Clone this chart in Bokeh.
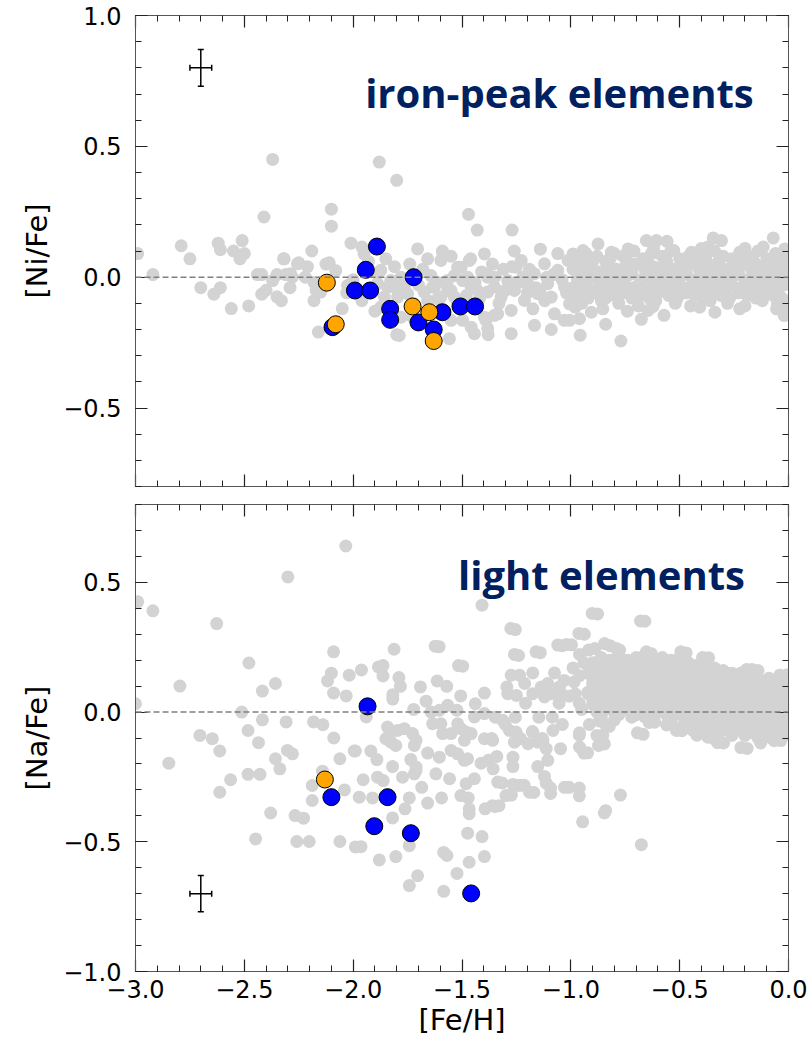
import numpy as np
from bokeh.plotting import figure
from bokeh.layouts import column
from bokeh.models import (ColumnDataSource, FixedTicker, LinearAxis, Span, Label,
                          Whisker, TeeHead, CustomJSTickFormatter, CustomLabelingPolicy)
from bokeh.embed import file_html
from bokeh.resources import INLINE

# ---------------------------------------------------------------------------
# Field stars, [Ni/Fe] vs [Fe/H]  (metal-poor halo part)
NI_FIELD_HALO = [
    (-2.99, 0.09), (-2.92, 0.01), (-2.79, 0.12), (-2.75, 0.07), (-2.70, -0.04),
    (-2.64, -0.065), (-2.62, 0.13), (-2.61, 0.105), (-2.61, -0.04), (-2.56, -0.12),
    (-2.55, 0.10), (-2.52, 0.07), (-2.51, 0.14), (-2.50, 0.09), (-2.48, -0.11),
    (-2.44, 0.01), (-2.42, 0.01), (-2.42, -0.065), (-2.41, 0.23), (-2.40, -0.05),
    (-2.37, 0.45), (-2.37, -0.013), (-2.35, 0.01), (-2.35, -0.075), (-2.33, -0.09),
    (-2.32, 0.07), (-2.31, 0.01), (-2.29, -0.04), (-2.28, 0.0), (-2.25, 0.055),
    (-2.22, 0.0), (-2.21, 0.04), (-2.19, 0.10), (-2.18, -0.02), (-2.18, -0.09),
    (-2.17, -0.05), (-2.16, -0.21), (-2.125, 0.05), (-2.11, 0.055), (-2.10, 0.26),
    (-2.10, 0.195), (-2.08, 0.025), (-2.05, -0.12), (-2.03, -0.06), (-2.01, 0.13),
    (-2.317, 0.07), (-2.256, 0.051), (-2.287, 0.013), (-2.149, -0.057), (-2.026, -0.032),
    (-1.96, 0.115), (-1.95, 0.089), (-1.88, 0.44), (-1.80, 0.37), (-1.85, 0.07),
    (-1.81, 0.04), (-1.80, -0.22), (-1.90, -0.13), (-1.873, 0.026), (-1.888, -0.025),
    (-1.857, -0.076), (-1.873, -0.114), (-1.811, -0.038), (-1.796, -0.076), (-1.78, -0.153),
    (-1.788, -0.223), (-1.75, -0.063), (-1.704, 0.108), (-1.674, -0.057), (-1.658, 0.07),
    (-1.635, -0.038), (-1.612, -0.083), (-1.589, 0.095), (-1.566, -0.051), (-1.55, -0.165),
    (-1.558, -0.235), (-1.497, -0.165), (-1.466, 0.064), (-1.458, -0.038), (-1.42, -0.083),
    (-1.397, 0.089), (-1.382, -0.057), (-1.39, -0.165), (-1.351, -0.146), (-1.458, -0.191),
    (-1.443, -0.216), (-1.535, -0.076), (-1.658, -0.089), (-1.719, -0.102), (-1.827, -0.013),
    (-1.78, 0.0), (-1.643, 0.006), (-1.535, 0.006), (-1.474, 0.0), (-1.382, 0.013),
    (-1.597, 0.064), (-1.504, 0.038), (-1.55, 0.08), (-1.59, 0.10), (-1.47, 0.24),
    (-1.43, 0.18), (-1.27, 0.18), (-1.46, 0.07), (-1.26, 0.10), (-1.14, 0.107),
    (-1.06, 0.09), (-1.38, -0.22), (-1.09, -0.20), (-1.03, -0.165), (-1.842, -0.038),
    (-1.765, -0.038), (-1.888, 0.013), (-1.627, -0.038), (-1.597, -0.076), (-1.52, 0.038),
    (-1.566, -0.013), (-1.497, -0.013), (-1.55, -0.051), (-1.428, -0.051), (-1.458, -0.114),
    (-1.397, -0.153), (-1.336, -0.14), (-1.274, -0.127), (-1.274, -0.216), (-1.382, -0.197),
    (-1.167, -0.184), (-1.382, 0.0), (-1.351, -0.038), (-1.32, -0.076), (-1.29, -0.013),
    (-1.259, -0.051), (-1.251, 0.038), (-1.228, 0.064), (-1.213, -0.089), (-1.198, -0.025),
    (-1.167, 0.013), (-1.152, -0.063), (-1.174, -0.121), (-1.121, 0.051), (-1.106, -0.025),
    (-1.09, -0.076), (-1.075, -0.14), (-1.06, 0.026), (-1.029, -0.038), (-1.013, 0.064),
    (-1.006, -0.102), (-1.31, 0.03), (-1.33, -0.10), (-1.24, -0.02), (-1.19, 0.03),
    (-1.12, -0.09), (-1.04, -0.01), (-1.36, 0.05), (-1.41, 0.02), (-1.16, -0.04),
    (-1.70, -0.03), (-1.68, 0.03), (-1.61, -0.02), (-1.52, -0.10), (-1.48, -0.07),
    (-1.73, -0.15), (-1.96, -0.09), (-2.00, -0.01), (-1.93, 0.06), (-1.74, 0.05),
    (-1.30, -0.05), (-1.22, 0.00), (-1.14, -0.06), (-1.08, 0.01), (-1.02, -0.06),
    (-1.44, -0.02), (-1.35, 0.00), (-1.27, 0.04), (-1.20, -0.06), (-1.11, 0.00),
]

# Field stars, [Ni/Fe] vs [Fe/H]  (thick/thin disc part)
NI_FIELD_DISC = [
    (-0.98, 0.07), (-0.93, 0.09), (-0.88, 0.08), (-0.84, 0.06), (-0.80, 0.09),
    (-0.76, 0.08), (-0.71, 0.10), (-0.67, 0.07), (-0.63, 0.09), (-0.58, 0.08),
    (-0.54, 0.10), (-0.50, 0.07), (-0.46, 0.08), (-0.42, 0.09), (-0.38, 0.07),
    (-0.34, 0.10), (-0.30, 0.08), (-0.26, 0.07), (-0.22, 0.09), (-0.18, 0.08),
    (-0.14, 0.10), (-0.10, 0.07), (-0.06, 0.09), (-0.02, 0.08),
    (-0.96, 0.06), (-0.90, 0.06), (-0.82, 0.07), (-0.74, 0.06), (-0.65, 0.06),
    (-0.56, 0.06), (-0.48, 0.06), (-0.40, 0.06), (-0.32, 0.06), (-0.24, 0.06),
    (-0.16, 0.06), (-0.08, 0.06), (-0.04, 0.06),
    (-0.99, 0.03), (-0.95, 0.05), (-0.91, 0.04), (-0.87, 0.02), (-0.83, 0.05),
    (-0.79, 0.03), (-0.75, 0.04), (-0.70, 0.05), (-0.66, 0.03), (-0.62, 0.04),
    (-0.57, 0.05), (-0.53, 0.03), (-0.49, 0.04), (-0.45, 0.05), (-0.41, 0.03),
    (-0.37, 0.04), (-0.33, 0.05), (-0.29, 0.03), (-0.25, 0.04), (-0.21, 0.05),
    (-0.17, 0.03), (-0.13, 0.04), (-0.09, 0.05), (-0.05, 0.03), (-0.01, 0.04),
    (-0.97, 0.02), (-0.89, 0.02), (-0.81, 0.02), (-0.72, 0.02), (-0.64, 0.02),
    (-0.55, 0.02), (-0.47, 0.02), (-0.39, 0.02), (-0.31, 0.02), (-0.23, 0.02),
    (-0.15, 0.02), (-0.07, 0.02), (-0.03, 0.02),
    (-0.97, -0.01), (-0.93, 0.01), (-0.89, 0.00), (-0.85, 0.01), (-0.81, -0.01),
    (-0.77, 0.00), (-0.73, 0.01), (-0.68, -0.01), (-0.64, 0.00), (-0.60, 0.01),
    (-0.56, -0.01), (-0.52, 0.00), (-0.48, 0.01), (-0.44, -0.01), (-0.40, 0.00),
    (-0.36, 0.01), (-0.32, -0.01), (-0.28, 0.00), (-0.24, 0.01), (-0.20, -0.01),
    (-0.16, 0.00), (-0.12, 0.01), (-0.08, -0.01), (-0.04, 0.00), (-0.01, 0.01),
    (-0.93, -0.02), (-0.85, -0.02), (-0.76, -0.02), (-0.68, -0.02), (-0.59, -0.02),
    (-0.51, -0.02), (-0.43, -0.02), (-0.35, -0.02), (-0.27, -0.02), (-0.19, -0.02),
    (-0.11, -0.02), (-0.03, -0.02),
    (-0.99, -0.04), (-0.95, -0.03), (-0.91, -0.05), (-0.87, -0.03), (-0.83, -0.04),
    (-0.79, -0.05), (-0.75, -0.03), (-0.71, -0.04), (-0.66, -0.05), (-0.62, -0.03),
    (-0.58, -0.04), (-0.54, -0.05), (-0.50, -0.03), (-0.46, -0.04), (-0.42, -0.05),
    (-0.38, -0.03), (-0.34, -0.04), (-0.30, -0.05), (-0.26, -0.03), (-0.22, -0.04),
    (-0.18, -0.05), (-0.14, -0.03), (-0.10, -0.04), (-0.06, -0.05), (-0.02, -0.03),
    (-0.94, -0.055), (-0.86, -0.055), (-0.77, -0.05), (-0.69, -0.055), (-0.61, -0.05),
    (-0.53, -0.055), (-0.45, -0.05), (-0.37, -0.055), (-0.29, -0.05), (-0.21, -0.055),
    (-0.13, -0.05), (-0.05, -0.055),
    (-0.97, -0.07), (-0.92, -0.08), (-0.88, -0.06), (-0.84, -0.08), (-0.80, -0.07),
    (-0.76, -0.06), (-0.72, -0.08), (-0.68, -0.07), (-0.64, -0.08), (-0.60, -0.06),
    (-0.55, -0.07), (-0.51, -0.08), (-0.47, -0.06), (-0.43, -0.07), (-0.39, -0.08),
    (-0.35, -0.06), (-0.31, -0.07), (-0.27, -0.08), (-0.23, -0.06), (-0.19, -0.07),
    (-0.15, -0.08), (-0.11, -0.06), (-0.07, -0.07), (-0.03, -0.08),
    (-0.95, -0.10), (-0.86, -0.09), (-0.78, -0.10), (-0.69, -0.11), (-0.61, -0.09),
    (-0.52, -0.10), (-0.45, -0.11), (-0.36, -0.09), (-0.28, -0.10), (-0.20, -0.11),
    (-0.12, -0.09), (-0.05, -0.10), (-0.01, -0.11),
    (-0.875, 0.127), (-0.653, 0.14), (-0.607, 0.14), (-0.558, 0.137), (-0.346, 0.15),
    (-0.308, 0.14), (-0.07, 0.15), (-0.737, 0.108), (-0.37, 0.115), (-0.116, 0.115),
    (-0.017, 0.108), (-0.446, 0.095), (-0.224, 0.095), (-0.99, 0.089), (-0.944, 0.102),
    (-0.814, 0.095), (-0.527, 0.102), (-0.20, 0.11), (-0.62, 0.11), (-0.40, 0.11),
    (-1.006, -0.165), (-0.96, -0.159), (-0.84, -0.18), (-0.957, -0.222), (-0.676, -0.161),
    (-0.572, -0.146), (-0.77, -0.244), (-0.338, -0.134), (-0.224, -0.121), (-0.055, -0.121),
    (-0.017, -0.146), (-0.645, -0.127), (-0.622, -0.112), (-0.408, -0.115), (-0.906, -0.134),
    (-0.853, -0.121), (-0.98, -0.115), (-0.04, -0.12), (-0.02, -0.146), (-0.74, -0.13),
]

# Sample stars, [Ni/Fe]
NI_BLUE_FEH = [-1.891, -1.942, -1.992, -1.922, -1.722, -1.830, -1.830, -1.70, -1.59, -1.507, -1.44, -1.63, -2.095]
NI_BLUE_NIFE = [0.117, 0.028, -0.051, -0.051, 0.0, -0.121, -0.163, -0.173, -0.134, -0.112, -0.112, -0.20, -0.191]
NI_ORANGE_FEH = [-2.121, -2.08, -1.727, -1.65, -1.63]
NI_ORANGE_NIFE = [-0.021, -0.18, -0.112, -0.134, -0.244]

# ---------------------------------------------------------------------------
# Field stars, [Na/Fe] vs [Fe/H]  (metal-poor halo part)
NA_FIELD_HALO = [
    (-2.034, 0.64), (-2.30, 0.521), (-2.99, 0.425), (-2.92, 0.39), (-2.627, 0.341),
    (-2.479, 0.189), (-2.09, 0.232), (-2.796, 0.10), (-2.417, 0.081), (-2.357, 0.11),
    (-2.10, 0.15), (-2.118, 0.12), (-2.018, 0.142), (-2.09, 0.073), (-2.032, 0.062),
    (-3.0, 0.032), (-2.512, 0.0), (-2.417, -0.03), (-2.483, -0.071), (-2.308, -0.038),
    (-2.182, -0.038), (-2.139, -0.049), (-2.089, -0.10), (-2.704, -0.09), (-2.647, -0.103),
    (-2.613, -0.15), (-2.435, -0.118), (-2.302, -0.148), (-2.279, -0.161), (-1.995, -0.15),
    (-2.847, -0.197), (-2.357, -0.18), (-2.337, -0.219), (-2.061, -0.18), (-2.563, -0.261),
    (-2.483, -0.24), (-2.428, -0.24), (-2.141, -0.228), (-2.613, -0.309), (-2.188, -0.283),
    (-2.188, -0.341), (-2.04, -0.30), (-2.379, -0.389), (-2.267, -0.399), (-2.228, -0.409),
    (-2.448, -0.489), (-2.259, -0.499), (-2.202, -0.499), (-2.061, -0.499), (-1.99, -0.52),
    (-1.408, 0.412), (-1.276, 0.322), (-1.623, 0.254), (-1.812, 0.242), (-1.259, 0.222),
    (-1.16, 0.232), (-1.06, 0.258), (-1.02, 0.26), (-1.516, 0.179), (-1.962, 0.162),
    (-1.884, 0.174), (-1.863, 0.179), (-1.863, 0.139), (-1.79, 0.133), (-1.783, 0.099),
    (-1.818, 0.067), (-1.818, 0.05), (-1.691, 0.097), (-1.614, 0.12), (-1.57, 0.099),
    (-1.665, 0.042), (-1.506, 0.062), (-1.397, 0.073), (-1.274, 0.142), (-1.236, 0.142),
    (-1.294, 0.097), (-1.29, 0.071), (-1.25, 0.064), (-1.212, 0.11), (-1.175, 0.151),
    (-1.136, 0.097), (-1.106, 0.11), (-1.075, 0.151), (-1.052, 0.097), (-1.03, 0.122),
    (-1.175, 0.071), (-1.121, 0.058), (-1.09, 0.071), (-1.044, 0.071), (-1.722, 0.01),
    (-1.642, 0.0), (-1.604, 0.007), (-1.566, 0.026), (-1.523, 0.007), (-1.439, 0.032),
    (-1.443, -0.019), (-1.397, -0.006), (-1.94, -0.019), (-1.842, -0.058), (-1.834, -0.09),
    (-1.796, -0.071), (-1.765, -0.064), (-1.727, -0.083), (-1.711, -0.109), (-1.826, -0.116),
    (-1.85, -0.103), (-1.804, -0.129), (-1.719, -0.129), (-1.635, -0.045), (-1.597, -0.045),
    (-1.589, -0.083), (-1.55, -0.083), (-1.52, -0.045), (-1.505, -0.064), (-1.481, -0.077),
    (-1.489, -0.109), (-1.458, -0.083), (-1.397, -0.103), (-1.359, -0.109), (-1.313, -0.032),
    (-1.282, -0.071), (-1.252, -0.077), (-1.259, -0.116), (-1.197, -0.122), (-1.175, -0.077),
    (-1.152, -0.116), (-1.128, -0.109), (-1.113, -0.141), (-1.082, -0.071), (-1.047, -0.141),
    (-1.99, -0.15), (-1.919, -0.15), (-1.891, -0.183), (-1.819, -0.21), (-1.735, -0.183),
    (-1.711, -0.212), (-1.658, -0.158), (-1.604, -0.174), (-1.55, -0.148), (-1.52, -0.161),
    (-1.489, -0.186), (-1.474, -0.18), (-1.412, -0.197), (-1.379, -0.186), (-1.34, -0.171),
    (-1.357, -0.219), (-1.266, -0.174), (-1.266, -0.21), (-1.152, -0.21), (-1.106, -0.186),
    (-1.121, -0.248), (-1.113, -0.274), (-1.954, -0.261), (-1.888, -0.251), (-1.862, -0.264),
    (-1.773, -0.251), (-1.719, -0.238), (-1.711, -0.225), (-1.62, -0.238), (-1.557, -0.257),
    (-1.481, -0.276), (-1.443, -0.257), (-1.336, -0.27), (-1.266, -0.279), (-1.244, -0.283),
    (-1.19, -0.309), (-1.029, -0.29), (-1.972, -0.328), (-1.911, -0.331), (-1.742, -0.331),
    (-1.685, -0.29), (-1.658, -0.351), (-1.594, -0.331), (-1.505, -0.322), (-1.471, -0.331),
    (-1.467, -0.373), (-1.467, -0.392), (-1.394, -0.373), (-1.348, -0.364), (-1.298, -0.322),
    (-1.762, -0.373), (-1.819, -0.408), (-1.742, -0.515), (-1.964, -0.519), (-1.88, -0.57),
    (-1.804, -0.557), (-1.474, -0.467), (-1.408, -0.48), (-1.584, -0.541), (-1.569, -0.553),
    (-1.467, -0.579), (-1.397, -0.557), (-1.523, -0.622), (-1.704, -0.631), (-1.742, -0.669),
    (-1.584, -0.691), (-0.877, 0.378), (-0.66, 0.35), (-1.255, 0.318), (-0.938, 0.30),
    (-1.605, 0.252), (-1.497, 0.177), (-1.24, 0.218), (-1.14, 0.229), (-1.039, 0.256),
    (-0.997, 0.259), (-0.96, 0.222), (-0.918, 0.239), (-0.89, 0.245), (-0.82, 0.256),
    (-0.776, 0.239), (-0.668, -0.086), (-0.923, -0.157), (-0.772, -0.32), (-0.846, -0.389),
    (-0.84, -0.38), (-0.946, -0.423), (-0.676, -0.511), (-0.961, -0.293), (-0.961, -0.323),
    (-1.008, -0.29), (-1.093, -0.293), (-1.093, -0.314), (-1.17, -0.31), (-1.23, -0.282),
    (-1.215, -0.282), (-1.273, -0.32), (-1.316, -0.273), (-1.33, -0.361), (-1.36, -0.361),
    (-0.961, -0.089), (-0.853, -0.089), (-0.846, -0.123), (-0.823, -0.055), (-0.869, -0.034),
    (-0.915, -0.048), (-0.961, 0.034), (-0.923, 0.075), (-0.877, 0.089), (-0.985, 0.116),
    (-1.008, 0.061), (-1.054, 0.034), (-1.085, -0.02), (-1.039, -0.048), (-1.147, -0.02),
    (-1.131, -0.102), (-1.177, -0.075), (-1.208, 0.034), (-1.255, -0.02), (-1.301, -0.048),
    (-1.231, -0.102), (-1.363, -0.102), (-1.347, -0.02),
    (-0.99, 0.17), (-0.96, 0.14), (-0.94, 0.19), (-0.98, 0.07), (-0.95, 0.01),
]

# Field stars, [Na/Fe] vs [Fe/H]  (thick/thin disc part)
NA_FIELD_DISC = [
    (-0.90, 0.19), (-0.86, 0.21), (-0.82, 0.20), (-0.78, 0.22), (-0.74, 0.20),
    (-0.70, 0.21), (-0.66, 0.22), (-0.62, 0.20), (-0.58, 0.21), (-0.54, 0.20),
    (-0.50, 0.21), (-0.46, 0.19), (-0.42, 0.18), (-0.38, 0.19), (-0.34, 0.17),
    (-0.30, 0.16), (-0.26, 0.15), (-0.22, 0.15), (-0.18, 0.14), (-0.14, 0.13),
    (-0.10, 0.12), (-0.06, 0.12), (-0.02, 0.11),
    (-0.88, 0.19), (-0.84, 0.19), (-0.80, 0.19), (-0.76, 0.20), (-0.72, 0.19),
    (-0.68, 0.19), (-0.64, 0.20), (-0.60, 0.19), (-0.56, 0.18), (-0.52, 0.19),
    (-0.48, 0.18), (-0.44, 0.17), (-0.40, 0.16), (-0.36, 0.16), (-0.32, 0.15),
    (-0.28, 0.14), (-0.24, 0.13), (-0.20, 0.13), (-0.16, 0.12), (-0.12, 0.11),
    (-0.08, 0.10), (-0.04, 0.10),
    (-0.92, 0.15), (-0.88, 0.16), (-0.84, 0.17), (-0.80, 0.16), (-0.76, 0.18),
    (-0.72, 0.17), (-0.68, 0.16), (-0.64, 0.18), (-0.60, 0.17), (-0.56, 0.16),
    (-0.52, 0.17), (-0.48, 0.16), (-0.44, 0.15), (-0.40, 0.14), (-0.36, 0.14),
    (-0.32, 0.13), (-0.28, 0.12), (-0.24, 0.11), (-0.20, 0.11), (-0.16, 0.10),
    (-0.12, 0.09), (-0.08, 0.08), (-0.04, 0.08), (-0.01, 0.07),
    (-0.90, 0.13), (-0.86, 0.14), (-0.82, 0.15), (-0.78, 0.14), (-0.74, 0.16),
    (-0.70, 0.15), (-0.66, 0.14), (-0.62, 0.15), (-0.58, 0.14), (-0.54, 0.15),
    (-0.50, 0.14), (-0.46, 0.13), (-0.42, 0.12), (-0.38, 0.12), (-0.34, 0.11),
    (-0.30, 0.10), (-0.26, 0.10), (-0.22, 0.09), (-0.18, 0.08), (-0.14, 0.08),
    (-0.10, 0.07), (-0.06, 0.06), (-0.02, 0.06),
    (-0.90, 0.11), (-0.86, 0.12), (-0.82, 0.13), (-0.78, 0.12), (-0.74, 0.14),
    (-0.70, 0.13), (-0.66, 0.12), (-0.62, 0.13), (-0.58, 0.12), (-0.54, 0.13),
    (-0.50, 0.12), (-0.46, 0.11), (-0.42, 0.10), (-0.38, 0.10), (-0.34, 0.09),
    (-0.30, 0.08), (-0.26, 0.08), (-0.22, 0.07), (-0.18, 0.06), (-0.14, 0.06),
    (-0.10, 0.05), (-0.06, 0.04), (-0.02, 0.04),
    (-0.88, 0.10), (-0.84, 0.11), (-0.80, 0.10), (-0.76, 0.12), (-0.72, 0.11),
    (-0.68, 0.11), (-0.64, 0.10), (-0.60, 0.11), (-0.56, 0.10), (-0.52, 0.10),
    (-0.48, 0.09), (-0.44, 0.08), (-0.40, 0.08), (-0.36, 0.07), (-0.32, 0.06),
    (-0.28, 0.06), (-0.24, 0.05), (-0.20, 0.04), (-0.16, 0.04), (-0.12, 0.03),
    (-0.08, 0.03), (-0.04, 0.02), (-0.01, 0.03),
    (-0.92, 0.07), (-0.88, 0.08), (-0.84, 0.09), (-0.80, 0.08), (-0.76, 0.09),
    (-0.72, 0.10), (-0.68, 0.09), (-0.64, 0.08), (-0.60, 0.09), (-0.56, 0.08),
    (-0.52, 0.08), (-0.48, 0.07), (-0.44, 0.06), (-0.40, 0.06), (-0.36, 0.05),
    (-0.32, 0.04), (-0.28, 0.04), (-0.24, 0.03), (-0.20, 0.02), (-0.16, 0.02),
    (-0.12, 0.01), (-0.08, 0.01), (-0.04, 0.00), (-0.01, 0.01),
    (-0.90, 0.05), (-0.86, 0.06), (-0.82, 0.07), (-0.78, 0.06), (-0.74, 0.07),
    (-0.70, 0.08), (-0.66, 0.07), (-0.62, 0.06), (-0.58, 0.06), (-0.54, 0.05),
    (-0.50, 0.05), (-0.46, 0.04), (-0.42, 0.04), (-0.38, 0.03), (-0.34, 0.02),
    (-0.30, 0.02), (-0.26, 0.01), (-0.22, 0.00), (-0.18, 0.00), (-0.14, -0.01),
    (-0.10, -0.01), (-0.06, -0.01), (-0.02, -0.01),
    (-0.90, 0.03), (-0.86, 0.04), (-0.82, 0.05), (-0.78, 0.04), (-0.74, 0.05),
    (-0.70, 0.06), (-0.66, 0.05), (-0.62, 0.04), (-0.58, 0.04), (-0.54, 0.03),
    (-0.50, 0.03), (-0.46, 0.02), (-0.42, 0.02), (-0.38, 0.01), (-0.34, 0.00),
    (-0.30, 0.00), (-0.26, -0.01), (-0.22, -0.02), (-0.18, -0.02), (-0.14, -0.03),
    (-0.10, -0.03), (-0.06, -0.03), (-0.02, -0.03),
    (-0.86, 0.02), (-0.82, 0.02), (-0.78, 0.02), (-0.74, 0.03), (-0.70, 0.03),
    (-0.66, 0.03), (-0.62, 0.02), (-0.58, 0.01), (-0.54, 0.01), (-0.50, 0.00),
    (-0.46, 0.00), (-0.42, -0.01), (-0.38, -0.02), (-0.34, -0.02), (-0.30, -0.03),
    (-0.26, -0.03), (-0.22, -0.04), (-0.18, -0.04), (-0.14, -0.05), (-0.10, -0.05),
    (-0.06, -0.05), (-0.02, -0.05),
    (-0.88, 0.00), (-0.84, 0.01), (-0.80, 0.00), (-0.76, 0.01), (-0.72, 0.02),
    (-0.68, 0.01), (-0.64, 0.00), (-0.60, 0.00), (-0.56, -0.01), (-0.52, -0.01),
    (-0.48, -0.02), (-0.44, -0.02), (-0.40, -0.03), (-0.36, -0.04), (-0.32, -0.04),
    (-0.28, -0.05), (-0.24, -0.05), (-0.20, -0.06), (-0.16, -0.06), (-0.12, -0.07),
    (-0.08, -0.06), (-0.04, -0.07), (-0.01, -0.06),
    (-0.86, -0.02), (-0.78, -0.01), (-0.70, -0.01), (-0.62, -0.02), (-0.54, -0.03),
    (-0.46, -0.04), (-0.40, -0.05), (-0.34, -0.06), (-0.28, -0.07), (-0.22, -0.07),
    (-0.16, -0.08), (-0.10, -0.08), (-0.05, -0.08), (-0.01, -0.08),
    (-0.80, -0.03), (-0.72, -0.02), (-0.64, -0.04), (-0.56, -0.05), (-0.50, -0.06),
    (-0.44, -0.07), (-0.38, -0.07), (-0.32, -0.08), (-0.26, -0.09), (-0.20, -0.09),
    (-0.14, -0.10), (-0.08, -0.10), (-0.03, -0.10),
    (-0.902, 0.38), (-0.68, 0.351), (-0.963, 0.303), (-0.845, 0.264), (-0.791, 0.245),
    (-0.653, 0.232), (-0.495, 0.232), (-0.395, 0.21), (-0.365, 0.176), (-0.306, 0.154),
    (-0.193, 0.164), (-0.168, 0.164), (-0.04, 0.142), (-0.63, 0.225), (-0.576, 0.205),
    (-0.47, 0.228), (-0.367, 0.209), (-0.282, 0.15), (-0.174, 0.16), (-0.14, 0.16),
    (-0.09, 0.13), (-0.008, 0.143),
    (-0.96, -0.08), (-0.88, -0.09), (-0.873, -0.129), (-0.96, -0.135), (-0.94, -0.158),
    (-0.694, -0.08), (-0.84, -0.049), (-0.66, -0.019), (-0.615, -0.039), (-0.515, -0.071),
    (-0.37, -0.097), (-0.326, -0.118), (-0.219, -0.137), (-0.298, -0.119), (-0.19, -0.14),
    (-0.128, -0.119), (-0.066, -0.11), (-0.035, -0.11), (-0.344, -0.102), (-0.421, -0.089),
    (-0.49, -0.072),
]

# Sample stars, [Na/Fe]
NA_BLUE_FEH = [-1.934, -2.10, -1.842, -1.903, -1.735, -1.458]
NA_BLUE_NAFE = [0.022, -0.328, -0.328, -0.44, -0.467, -0.699]
NA_ORANGE_FEH = [-2.13]
NA_ORANGE_NAFE = [-0.26]

# Typical uncertainties
ERR_FEH = 0.05
ERR_NIFE = 0.07
ERR_NAFE = 0.07

X_MAJOR = [-3.0, -2.5, -2.0, -1.5, -1.0, -0.5, 0.0]
NI_Y_MAJOR = [-0.5, 0.0, 0.5, 1.0]
NA_Y_MAJOR = [-1.0, -0.5, 0.0, 0.5]

# ---------------------------------------------------------------------------
GREY = "#d3d3d3"
NAVY = "#002060"
FRAME = "#555555"
TICK_FONT = "'DejaVu Sans'"
FIELD_SIZE = 13
STAR_SIZE = 17

fmt = CustomJSTickFormatter(code="""
    if (Math.abs(tick) < 1e-9) { return '0.0'; }
    return tick.toFixed(1).replace('-', '\u2212');
""")

x_minor = [round(v, 1) for v in np.arange(-3.0, 0.001, 0.1)]


def style_axis(ax, labels=True):
    ax.axis_line_color = FRAME
    ax.axis_line_width = 1
    ax.major_tick_in = 12
    ax.major_tick_out = 0
    ax.minor_tick_in = 6
    ax.minor_tick_out = 0
    ax.major_tick_line_color = "#222222"
    ax.minor_tick_line_color = "#222222"
    ax.major_tick_line_width = 1.2
    ax.minor_tick_line_width = 1
    ax.formatter = fmt
    ax.major_label_text_font = TICK_FONT
    ax.major_label_text_color = "black"
    if labels:
        ax.major_label_text_font_size = "24px"
    else:
        # tick marks only on this side: no numbers drawn, almost no space kept
        ax.major_label_text_font_size = "1px"
        ax.major_label_policy = CustomLabelingPolicy(
            code="for (const i of indices) { indices.unset(i) } return indices")
        ax.major_label_standoff = 0


def make_panel(y_rng, y_major, height, top, bottom, show_x_labels):
    p = figure(width=808, height=height, x_range=(-3.0, 0.0), y_range=y_rng,
               output_backend="svg", toolbar_location=None,
               x_axis_location=None, y_axis_location=None,
               min_border_left=135, min_border_right=20,
               min_border_top=top, min_border_bottom=bottom)
    p.grid.visible = False
    p.outline_line_color = FRAME
    p.outline_line_width = 1
    p.background_fill_color = "white"
    p.border_fill_color = "white"

    y_minor = [round(v, 1) for v in np.arange(y_rng[0], y_rng[1] + 0.001, 0.1)]
    xt = FixedTicker(ticks=X_MAJOR, minor_ticks=x_minor)
    yt = FixedTicker(ticks=y_major, minor_ticks=y_minor)

    bx = LinearAxis(ticker=xt)
    style_axis(bx, labels=show_x_labels)
    if show_x_labels:
        bx.major_label_standoff = 8
        bx.axis_label = "[Fe/H]"
        bx.axis_label_text_font = TICK_FONT
        bx.axis_label_text_font_size = "29px"
        bx.axis_label_text_font_style = "normal"
        bx.axis_label_text_color = "black"
        bx.axis_label_standoff = 2
    p.add_layout(bx, "below")

    tx = LinearAxis(ticker=xt)
    style_axis(tx, labels=False)
    p.add_layout(tx, "above")

    ly = LinearAxis(ticker=yt)
    style_axis(ly, labels=True)
    ly.major_label_standoff = 14
    ly.axis_label_text_font = TICK_FONT
    ly.axis_label_text_font_size = "29px"
    ly.axis_label_text_font_style = "normal"
    ly.axis_label_text_color = "black"
    ly.axis_label_standoff = 6
    p.add_layout(ly, "left")

    ry = LinearAxis(ticker=yt)
    style_axis(ry, labels=False)
    p.add_layout(ry, "right")
    return p, ly


def add_points(p, field_lists, blue_x, blue_y, orange_x, orange_y):
    for pts in field_lists:
        xs = [a for a, _ in pts]
        ys = [b for _, b in pts]
        p.scatter(xs, ys, size=FIELD_SIZE, fill_color=GREY, line_color=None)
    p.scatter(blue_x, blue_y, size=STAR_SIZE, fill_color="#0000ff",
              line_color="black", line_width=1)
    p.scatter(orange_x, orange_y, size=STAR_SIZE, fill_color="#ffa500",
              line_color="black", line_width=1)
    p.add_layout(Span(location=0, dimension="width", line_color="#808080",
                      line_dash="6 3", line_width=1.5))


def add_error_cross(p, x0, y0, ex, ey):
    src = ColumnDataSource(dict(x=[x0], y=[y0], yl=[y0 - ey], yu=[y0 + ey],
                                xl=[x0 - ex], xu=[x0 + ex]))
    p.add_layout(Whisker(source=src, base="x", lower="yl", upper="yu",
                         dimension="height", line_width=1.5, line_color="black",
                         lower_head=TeeHead(size=6, line_width=1.5),
                         upper_head=TeeHead(size=6, line_width=1.5)))
    p.add_layout(Whisker(source=src, base="y", lower="xl", upper="xu",
                         dimension="width", line_width=1.5, line_color="black",
                         lower_head=TeeHead(size=6, line_width=1.5),
                         upper_head=TeeHead(size=6, line_width=1.5)))


# Upper panel: nickel
p1, ax1 = make_panel((-0.8, 1.0), NI_Y_MAJOR, 490, 15, 3, False)
ax1.axis_label = "[Ni/Fe]"
add_points(p1, [NI_FIELD_HALO, NI_FIELD_DISC], NI_BLUE_FEH, NI_BLUE_NIFE,
           NI_ORANGE_FEH, NI_ORANGE_NIFE)
add_error_cross(p1, -2.7, 0.8, ERR_FEH, ERR_NIFE)
p1.add_layout(Label(x=-0.16, y=0.706, text="iron-peak elements", text_align="right",
                    text_baseline="alphabetic", text_font="'Open Sans'",
                    text_font_style="bold", text_font_size="40px", text_color=NAVY))

# Lower panel: sodium
p2, ax2 = make_panel((-1.0, 0.8), NA_Y_MAJOR, 555, 14, 74, True)
ax2.axis_label = "[Na/Fe]"
add_points(p2, [NA_FIELD_HALO, NA_FIELD_DISC], NA_BLUE_FEH, NA_BLUE_NAFE,
           NA_ORANGE_FEH, NA_ORANGE_NAFE)
add_error_cross(p2, -2.7, -0.7, ERR_FEH, ERR_NAFE)
p2.add_layout(Label(x=-0.20, y=0.532, text="light elements", text_align="right",
                    text_baseline="alphabetic", text_font="'Open Sans'",
                    text_font_style="bold", text_font_size="40px", text_color=NAVY))

layout = column(p1, p2, spacing=0)
with open("out.html", "w") as f:
    f.write(file_html(layout, INLINE))
